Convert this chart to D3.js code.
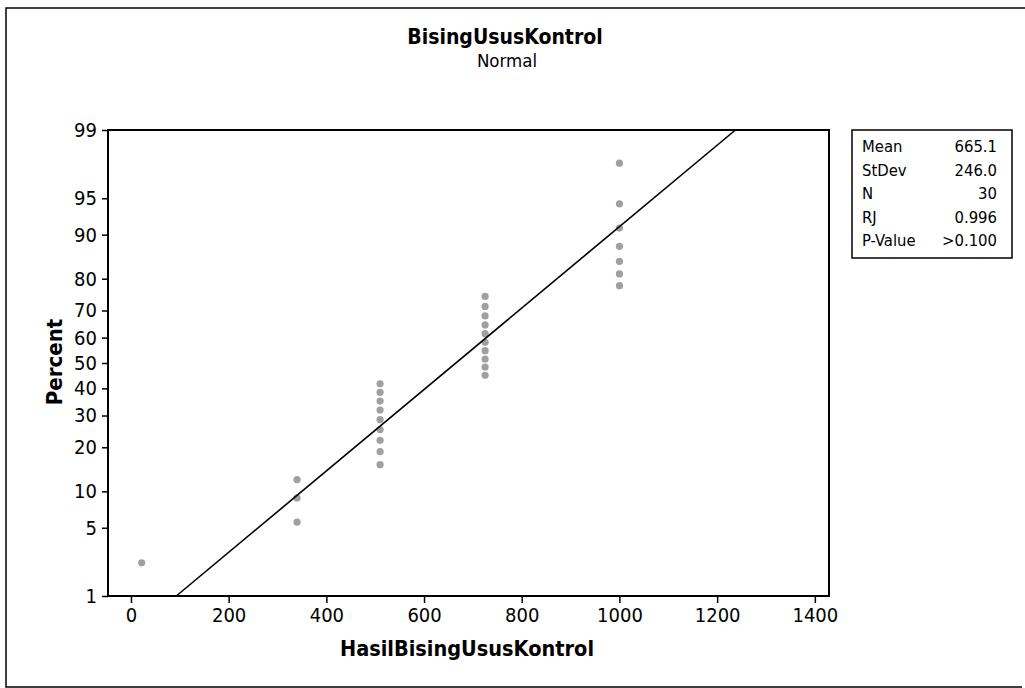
<!DOCTYPE html>
<html>
<head>
<meta charset="utf-8">
<script src="https://cdn.jsdelivr.net/npm/d3@7"></script>
<style>
  body { margin: 0; background: #fff; }
  text { font-family: "DejaVu Sans Condensed", "DejaVu Sans", sans-serif; fill: #000; }
</style>
</head>
<body>
<script>
// data
var values = [22, 340, 340, 340,
              510, 510, 510, 510, 510, 510, 510, 510, 510,
              725, 725, 725, 725, 725, 725, 725, 725, 725, 725,
              1000, 1000, 1000, 1000, 1000, 1000, 1000];
var percents = [2.3, 5.6, 8.9, 12.2,
                15.5, 18.8, 22.0, 25.3, 28.6, 31.9, 35.2, 38.5, 41.8,
                45.1, 48.4, 51.6, 54.9, 58.2, 61.5, 64.8, 68.1, 71.4, 74.7,
                78.0, 81.3, 84.5, 87.8, 91.1, 94.4, 97.7];
var xTicks = [0, 200, 400, 600, 800, 1000, 1200, 1400];
var yTicks = [1, 5, 10, 20, 30, 40, 50, 60, 70, 80, 90, 95, 99];
var statLabels = ["Mean", "StDev", "N", "RJ", "P-Value"];
var statValues = ["665.1", "246.0", "30", "0.996", ">0.100"];
var mean = 665.1, stdev = 246.0;

// inverse normal cdf (Acklam approximation)
function probit(p) {
  var a = [-39.6968302866538, 220.946098424521, -275.928510446969, 138.357751867269, -30.6647980661472, 2.50662827745924],
      b = [-54.4760987982241, 161.585836858041, -155.698979859887, 66.8013118877197, -13.2806815528857],
      c = [-0.00778489400243029, -0.322396458041136, -2.40075827716184, -2.54973253934373, 4.37466414146497, 2.93816398269878],
      d = [0.00778469570904146, 0.32246712907004, 2.445134137143, 3.75440866190742];
  var q, r;
  if (p < 0.02425) {
    q = Math.sqrt(-2 * Math.log(p));
    return (((((c[0]*q+c[1])*q+c[2])*q+c[3])*q+c[4])*q+c[5]) / ((((d[0]*q+d[1])*q+d[2])*q+d[3])*q+1);
  } else if (p > 1 - 0.02425) {
    q = Math.sqrt(-2 * Math.log(1 - p));
    return -(((((c[0]*q+c[1])*q+c[2])*q+c[3])*q+c[4])*q+c[5]) / ((((d[0]*q+d[1])*q+d[2])*q+d[3])*q+1);
  }
  q = p - 0.5; r = q * q;
  return (((((a[0]*r+a[1])*r+a[2])*r+a[3])*r+a[4])*r+a[5])*q / (((((b[0]*r+b[1])*r+b[2])*r+b[3])*r+b[4])*r+1);
}

var W = 1025, H = 688;
var plot = {left: 108, right: 829, top: 130, bottom: 596};

var svg = d3.select("body").append("svg")
    .attr("width", W)
    .attr("height", H);

// outer frame
svg.append("path")
    .attr("d", "M1025,8 H6 V687 H1022")
    .attr("fill", "none")
    .attr("stroke", "#000")
    .attr("stroke-width", 1.5);

// scales
var x = d3.scaleLinear().domain([-47, 1429]).range([plot.left, plot.right]);
var z = d3.scaleLinear().domain([probit(0.01), probit(0.99)]).range([plot.bottom, plot.top]);
var y = function(pct) { return z(probit(pct / 100)); };

// axes
svg.append("g")
    .attr("transform", "translate(0," + plot.bottom + ")")
    .call(d3.axisBottom(x).tickValues(xTicks).tickSize(7).tickPadding(5).tickFormat(d3.format("d")))
    .call(function(g) { g.select(".domain").remove(); })
    .call(function(g) {
      g.selectAll("line").attr("stroke-width", 1.5);
      g.selectAll("text").attr("font-size", "20px").attr("font-family", null);
    });

var yAxis = d3.axisLeft(z)
    .tickValues(yTicks.map(function(d) { return probit(d / 100); }))
    .tickSize(6)
    .tickPadding(5)
    .tickFormat(function(d, i) { return yTicks[i]; });

svg.append("g")
    .attr("transform", "translate(" + plot.left + ",0)")
    .call(yAxis)
    .call(function(g) { g.select(".domain").remove(); })
    .call(function(g) {
      g.selectAll("line").attr("stroke-width", 1.5);
      g.selectAll("text").attr("font-size", "20px").attr("font-family", null);
    });

// points
svg.append("g").selectAll("circle")
    .data(values)
  .enter().append("circle")
    .attr("cx", function(d) { return x(d); })
    .attr("cy", function(d, i) { return y(percents[i]); })
    .attr("r", 3.6)
    .attr("fill", "#808080")
    .attr("fill-opacity", 0.75);

// fitted line
var fit = d3.line()
    .x(function(d) { return x(mean + d * stdev); })
    .y(function(d) { return z(d); });
svg.append("path")
    .datum(z.domain())
    .attr("d", fit)
    .attr("fill", "none")
    .attr("stroke", "#000")
    .attr("stroke-width", 1.6);

// plot frame
svg.append("rect")
    .attr("x", plot.left)
    .attr("y", plot.top)
    .attr("width", plot.right - plot.left)
    .attr("height", plot.bottom - plot.top)
    .attr("fill", "none")
    .attr("stroke", "#000")
    .attr("stroke-width", 2);

// titles
svg.append("text")
    .attr("x", 505)
    .attr("y", 44)
    .attr("text-anchor", "middle")
    .style("font-size", "21px")
    .style("font-weight", "bold")
    .text("BisingUsusKontrol");

svg.append("text")
    .attr("x", 507)
    .attr("y", 67)
    .attr("text-anchor", "middle")
    .style("font-size", "18.5px")
    .text("Normal");

svg.append("text")
    .attr("transform", "translate(62,362) rotate(-90)")
    .attr("text-anchor", "middle")
    .style("font-size", "22px")
    .style("font-weight", "bold")
    .text("Percent");

svg.append("text")
    .attr("x", 467)
    .attr("y", 656)
    .attr("text-anchor", "middle")
    .style("font-size", "21.5px")
    .style("font-weight", "bold")
    .text("HasilBisingUsusKontrol");

// stats box
svg.append("rect")
    .attr("x", 852)
    .attr("y", 130)
    .attr("width", 160)
    .attr("height", 128)
    .attr("fill", "none")
    .attr("stroke", "#000")
    .attr("stroke-width", 1.5);

var rows = svg.append("g").selectAll("g")
    .data(statLabels)
  .enter().append("g")
    .attr("transform", function(d, i) { return "translate(0," + (152 + i * 23.5) + ")"; });

rows.append("text")
    .attr("x", 862)
    .style("font-size", "16.5px")
    .text(function(d) { return d; });

rows.append("text")
    .attr("x", 997)
    .attr("text-anchor", "end")
    .style("font-size", "16.5px")
    .text(function(d, i) { return statValues[i]; });
</script>
</body>
</html>
